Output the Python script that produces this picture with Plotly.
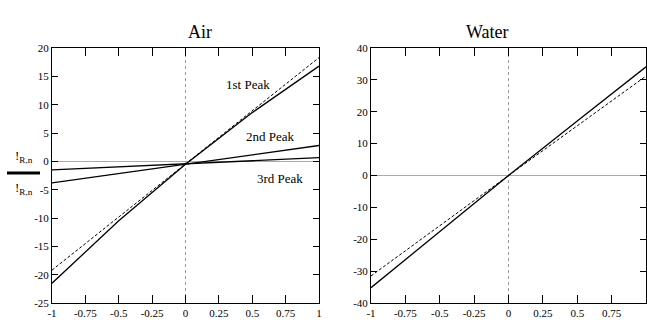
import plotly.graph_objects as go

# ---------------- data ----------------
x_vals = [-1, -0.5, 0, 0.5, 1]

air_peak1_solid = [-21.5, -10.5, -0.5, 8.6, 16.8]
air_peak1_dashed = [-19.2, -9.8, -0.45, 8.9, 18.3]
air_peak2 = [-3.8, -2.15, -0.5, 1.15, 2.8]
air_peak3 = [-1.5, -1.0, -0.45, 0.1, 0.65]

water_solid = [-35.2, -17.6, 0.0, 17.1, 34.1]
water_dashed = [-31.5, -15.7, 0.0, 15.6, 31.2]

x_tickvals = [-1, -0.75, -0.5, -0.25, 0, 0.25, 0.5, 0.75, 1]
x_ticktext = ["-1", "-0.75", "-0.5", "-0.25", "0", "0.25", "0.5", "0.75", "1"]
air_ytickvals = [-25, -20, -15, -10, -5, 0, 5, 10, 15, 20]
air_yticktext = ["-25", "-20", "-15", "-10", "-5", "0", "5", "10", "15", "20"]
water_ytickvals = [-40, -30, -20, -10, 0, 10, 20, 30, 40]
water_yticktext = ["-40", "-30", "-20", "-10", "0", "10", "20", "30", "40"]

panel_titles = ["Air", "Water"]
peak_labels = ["1st Peak", "2nd Peak", "3rd Peak"]
peak_label_x = [0.47, 0.64, 0.71]
peak_label_y = [13.6, 4.4, -3.0]

# ---------------- figure ----------------
W, H = 647, 331
FONT = "Liberation Serif"

fig = go.Figure()

solid = dict(color="black", width=1.3)
dashed = dict(color="black", width=1, dash="3px,2px")

fig.add_trace(go.Scatter(x=x_vals, y=air_peak1_dashed, mode="lines", line=dashed, xaxis="x", yaxis="y"))
fig.add_trace(go.Scatter(x=x_vals, y=air_peak1_solid, mode="lines", line=solid, xaxis="x", yaxis="y"))
fig.add_trace(go.Scatter(x=x_vals, y=air_peak2, mode="lines", line=solid, xaxis="x", yaxis="y"))
fig.add_trace(go.Scatter(x=x_vals, y=air_peak3, mode="lines", line=solid, xaxis="x", yaxis="y"))

fig.add_trace(go.Scatter(x=x_vals, y=water_dashed, mode="lines", line=dashed, xaxis="x2", yaxis="y2"))
fig.add_trace(go.Scatter(x=x_vals, y=water_solid, mode="lines", line=solid, xaxis="x2", yaxis="y2"))


def px_x(p):
    return p / W


def px_y(p):
    return 1 - p / H


tickfont = dict(family=FONT, size=11, color="black")

common_x = dict(
    range=[-1, 1], tickvals=x_tickvals, ticktext=x_ticktext,
    showline=True, linecolor="black", linewidth=1, mirror="ticks",
    ticks="inside", ticklen=8, tickcolor="black", tickwidth=1,
    showgrid=False, zeroline=False, tickfont=tickfont, fixedrange=True,
    automargin=False,
)
common_y = dict(
    showline=True, linecolor="black", linewidth=1, mirror="ticks",
    ticks="inside", ticklen=6, tickcolor="black", tickwidth=1,
    showgrid=False, zeroline=True, zerolinecolor="#aaaaaa", zerolinewidth=1,
    tickfont=tickfont, fixedrange=True, automargin=False,
)

fig.update_layout(
    width=W, height=H, autosize=False,
    margin=dict(l=0, r=0, t=0, b=0, pad=0),
    paper_bgcolor="white", plot_bgcolor="white",
    showlegend=False,
    xaxis=dict(domain=[px_x(52), px_x(319)], anchor="y", **common_x),
    yaxis=dict(domain=[px_y(303), px_y(48)], anchor="x", range=[-25, 20],
               tickvals=air_ytickvals, ticktext=air_yticktext, **common_y),
    xaxis2=dict(domain=[px_x(371), px_x(646)], anchor="y2", **common_x),
    yaxis2=dict(domain=[px_y(303), px_y(48)], anchor="x2", range=[-40, 40],
                tickvals=water_ytickvals, ticktext=water_yticktext, **common_y),
)

# dotted vertical reference lines at x = 0
for xr, yr in [("x", "y domain"), ("x2", "y2 domain")]:
    fig.add_shape(type="line", xref=xr, yref=yr, x0=0, x1=0, y0=0, y1=1,
                  line=dict(color="#999999", width=1, dash="dot"), layer="below")

# panel titles
fig.add_annotation(text=panel_titles[0], xref="paper", yref="paper",
                   x=px_x(186), y=px_y(20), showarrow=False,
                   font=dict(family=FONT, size=18, color="black"))
fig.add_annotation(text=panel_titles[1], xref="paper", yref="paper",
                   x=px_x(511), y=px_y(20), showarrow=False,
                   font=dict(family=FONT, size=18, color="black"))

# peak labels
for t, lx, ly in zip(peak_labels, peak_label_x, peak_label_y):
    fig.add_annotation(text=t, x=lx, y=ly, xref="x", yref="y", showarrow=False,
                       font=dict(family=FONT, size=13, color="black"))

# y-axis label as fraction
fig.add_annotation(text="!<sub>R,n</sub>", xref="paper", yref="paper",
                   x=px_x(13), y=px_y(157), xanchor="left", showarrow=False,
                   font=dict(family=FONT, size=13, color="black"))
fig.add_annotation(text="!<sub>R,n</sub>", xref="paper", yref="paper",
                   x=px_x(13), y=px_y(188), xanchor="left", showarrow=False,
                   font=dict(family=FONT, size=13, color="black"))
fig.add_shape(type="line", xref="paper", yref="paper",
              x0=px_x(7), x1=px_x(40), y0=px_y(173), y1=px_y(173),
              line=dict(color="black", width=3))

fig.write_html(
    "out.html",
    config={"displayModeBar": False, "staticPlot": True},
    post_script="document.body.style.margin='0';document.body.style.overflow='hidden';",
)
